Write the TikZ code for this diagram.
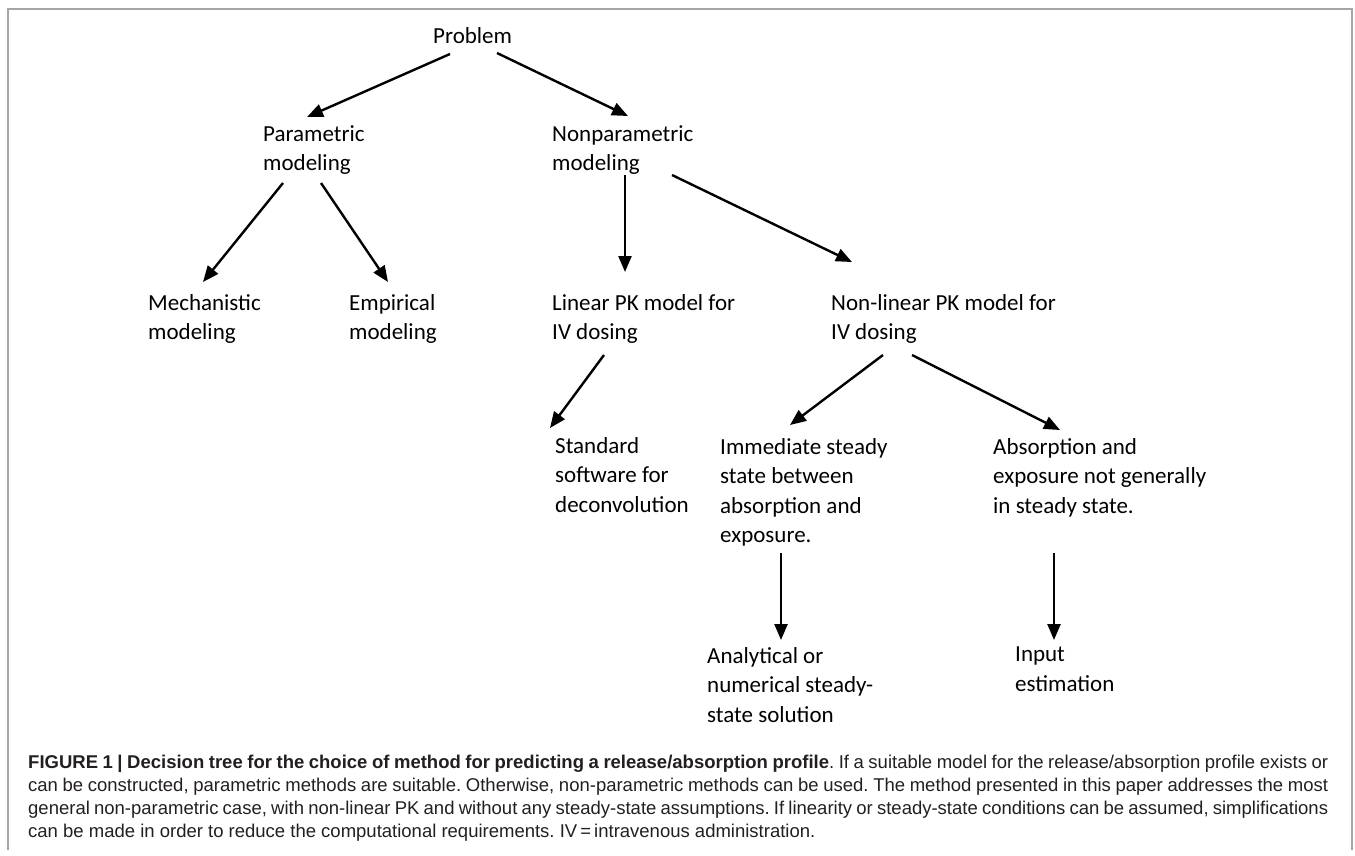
\documentclass[tikz,border=0pt]{standalone}
\usepackage{fontspec}
\usepackage{xcolor}
\usepackage{tikz}
\usetikzlibrary{calc}
\usetikzlibrary{arrows.meta}
\newfontfamily\treefont{Carlito}
\newfontfamily\capfont{Liberation Sans}
\definecolor{framegray}{HTML}{A6A6A6}
\definecolor{captext}{HTML}{231F20}
\tikzset{
  leaf/.style={anchor=north west,inner sep=0pt,align=left,font=\treefont\fontsize{23}{29.5}\selectfont},
  branch/.style={line width=2.4pt,-{Triangle[length=16pt,width=13pt]}},
  capline/.style={anchor=base west,inner sep=0pt,text=captext,font=\capfont\fontsize{18.5}{23}\selectfont\frenchspacing}
}

\begin{document}
\begin{tikzpicture}[x=1pt,y=-1pt]
\useasboundingbox (0,0) rectangle (1355,855);
\draw[framegray,line width=2pt] (8,850) -- (8,9) -- (1352,9) -- (1352,850);

% tree
\node[leaf] (prob) at (433,27) {Problem};
\node[leaf] (param) at (263,125) {Parametric\\modeling};
\node[leaf] (nonparam) at (552,125) {Nonparametric\\modeling};
\node[leaf] (mech) at (148,294) {Mechanistic\\modeling};
\node[leaf] (emp) at (349,294) {Empirical\\modeling};
\node[leaf] (lin) at (552,294) {Linear PK model for\\IV dosing};
\node[leaf] (nonlin) at (831,294) {Non-linear PK model for\\IV dosing};
\node[leaf] (std) at (555,437) {Standard\\software for\\deconvolution};
\node[leaf] (imm) at (720,438) {Immediate steady\\state between\\absorption and\\exposure.};
\node[leaf] (abs) at (993,438) {Absorption and\\exposure not generally\\in steady state.};
\node[leaf] (ana) at (707,647) {Analytical or\\numerical steady-\\state solution};
\node[leaf] (inp) at (1015,647) {Input\\estimation};

\draw[branch] ([shift={(17,27)}]prob.north west) -- ([shift={(44,-8)}]param.north west);
\draw[branch] ([shift={(64,26)}]prob.north west) -- ([shift={(76,-9)}]nonparam.north west);
\draw[branch] ([shift={(20,58)}]param.north west) -- ([shift={(55,-12)}]mech.north west);
\draw[branch] ([shift={(58,58)}]param.north west) -- ([shift={(39,-12)}]emp.north west);
\draw[branch] ([shift={(73,50)}]nonparam.north west) -- ([shift={(73,-22)}]lin.north west);
\draw[branch] ([shift={(120,50)}]nonparam.north west) -- ([shift={(21,-32)}]nonlin.north west);
\draw[branch] ([shift={(52,61)}]lin.north west) -- ([shift={(-5,-9)}]std.north west);
\draw[branch] ([shift={(52,61)}]nonlin.north west) -- ([shift={(70,-13)}]imm.north west);
\draw[branch] ([shift={(81,61)}]nonlin.north west) -- ([shift={(67,-8)}]abs.north west);
\draw[branch] ([shift={(61,115)}]imm.north west) -- ([shift={(74,-7)}]ana.north west);
\draw[branch] ([shift={(61,115)}]abs.north west) -- ([shift={(39,-7)}]inp.north west);

% caption
\node[capline] (cap1) at (28,768) {\makebox[1300pt][s]{\textbf{FIGURE 1 | Decision tree for the choice of method for predicting a release/absorption profile}. If a suitable model for the release/absorption profile exists or}};
\node[capline] (cap2) at (28,791) {\makebox[1300pt][s]{can be constructed, parametric methods are suitable. Otherwise, non-parametric methods can be used. The method presented in this paper addresses the most}};
\node[capline] (cap3) at (28,814) {\makebox[1300pt][s]{general non-parametric case, with non-linear PK and without any steady-state assumptions. If linearity or steady-state conditions can be assumed, simplifications}};
\node[capline] (cap4) at (28,837) {can be made in order to reduce the computational requirements. IV\,=\,intravenous administration.};
\end{tikzpicture}
\end{document}
